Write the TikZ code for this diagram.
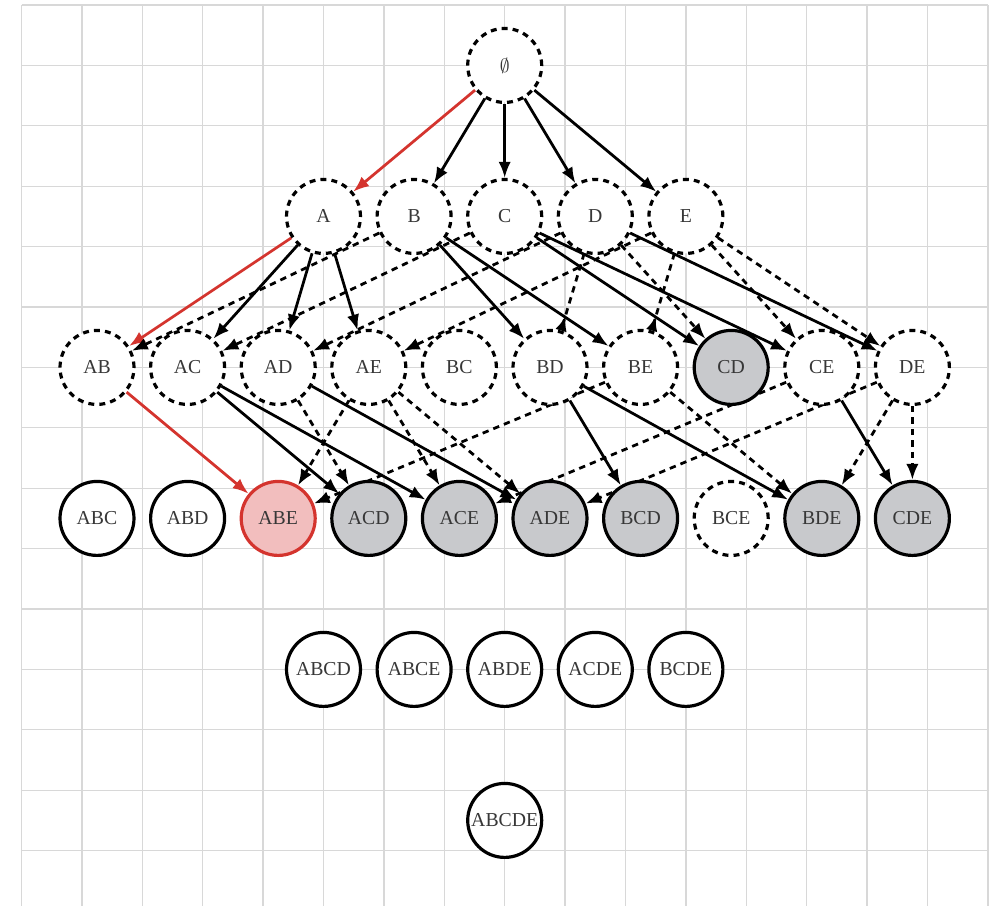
\documentclass[tikz,border=0pt]{standalone}
\usepackage{fontspec}
\setmainfont{Liberation Serif}
\usetikzlibrary{arrows.meta,backgrounds}

\definecolor{gridcol}{RGB}{216,216,216}
\definecolor{grayfill}{RGB}{200,201,204}
\definecolor{hlred}{RGB}{212,52,46}
\definecolor{hlfill}{RGB}{242,190,190}
\definecolor{txt}{RGB}{55,55,55}

\begin{document}
\begin{tikzpicture}[x=1cm,y=-1cm,
  setnode/.style={circle,minimum size=1.225cm,inner sep=0pt,line width=1.5pt,
    font=\fontsize{9.3}{10}\selectfont,text=txt,fill=white},
  dnode/.style={setnode,draw=black,dash pattern=on 2.8pt off 2.4pt},
  wnode/.style={setnode,draw=black},
  gnode/.style={setnode,draw=black,fill=grayfill},
  rnode/.style={setnode,draw=hlred,fill=hlfill},
  lnk/.style={line width=1.3pt,-{Latex[length=7.5pt,width=5.8pt]}},
  solidlnk/.style={lnk,draw=black},
  redlnk/.style={lnk,draw=hlred,-{Latex[length=7.5pt,width=5.8pt,color=hlred]}},
  dashlnk/.style={lnk,draw=black,dash pattern=on 3pt off 2.4pt},
  revlnk/.style={line width=1.3pt,draw=black,dash pattern=on 3pt off 2.4pt,
    -{Latex[length=7pt,width=5.5pt,reversed]}},
  gridline/.style={draw=gridcol,line width=0.6pt}
]
\useasboundingbox (-0.356,-0.083) rectangle (16.151,14.917);

% level 0
\node[dnode] (e) at (8,1) {$\emptyset$};
% level 1
\node[dnode] (A) at (5,3.5) {A};
\node[dnode] (B) at (6.5,3.5) {B};
\node[dnode] (C) at (8,3.5) {C};
\node[dnode] (D) at (9.5,3.5) {D};
\node[dnode] (E) at (11,3.5) {E};
% level 2
\node[dnode] (AB) at (1.25,6) {AB};
\node[dnode] (AC) at (2.75,6) {AC};
\node[dnode] (AD) at (4.25,6) {AD};
\node[dnode] (AE) at (5.75,6) {AE};
\node[dnode] (BC) at (7.25,6) {BC};
\node[dnode] (BD) at (8.75,6) {BD};
\node[dnode] (BE) at (10.25,6) {BE};
\node[gnode] (CD) at (11.75,6) {CD};
\node[dnode] (CE) at (13.25,6) {CE};
\node[dnode] (DE) at (14.75,6) {DE};
% level 3
\node[wnode] (ABC) at (1.25,8.5) {ABC};
\node[wnode] (ABD) at (2.75,8.5) {ABD};
\node[rnode] (ABE) at (4.25,8.5) {ABE};
\node[gnode] (ACD) at (5.75,8.5) {ACD};
\node[gnode] (ACE) at (7.25,8.5) {ACE};
\node[gnode] (ADE) at (8.75,8.5) {ADE};
\node[gnode] (BCD) at (10.25,8.5) {BCD};
\node[dnode] (BCE) at (11.75,8.5) {BCE};
\node[gnode] (BDE) at (13.25,8.5) {BDE};
\node[gnode] (CDE) at (14.75,8.5) {CDE};
% level 4
\node[wnode] (ABCD) at (5,11) {ABCD};
\node[wnode] (ABCE) at (6.5,11) {ABCE};
\node[wnode] (ABDE) at (8,11) {ABDE};
\node[wnode] (ACDE) at (9.5,11) {ACDE};
\node[wnode] (BCDE) at (11,11) {BCDE};
% level 5
\node[wnode] (ABCDE) at (8,13.5) {ABCDE};

\begin{pgfonlayer}{background}
  % background grid
  \foreach \i in {0,...,16} \draw[gridline] (\i,0) -- (\i,14.917);
  \foreach \j in {0,...,14} \draw[gridline] (0,\j) -- (16,\j);

  % level 0 -> 1
  \draw[redlnk] (e) -- (A);
  \foreach \t in {B,C,D,E} \draw[solidlnk] (e) -- (\t);

  % level 1 -> 2
  \draw[redlnk] (A) -- (AB);
  \foreach \t in {AC,AD,AE} \draw[solidlnk] (A) -- (\t);
  \draw[dashlnk] (B) -- (AB);
  \draw[solidlnk] (B) -- (BD);
  \draw[solidlnk] (B) -- (BE);
  \draw[dashlnk] (C) -- (AC);
  \draw[solidlnk] (C) -- (CD);
  \draw[solidlnk] (C) -- (CE);
  \draw[dashlnk] (D) -- (AD);
  \draw[revlnk] (D) -- (BD);
  \draw[dashlnk] (D) -- (CD);
  \draw[solidlnk] (D) -- (DE);
  \draw[dashlnk] (E) -- (AE);
  \draw[revlnk] (E) -- (BE);
  \draw[dashlnk] (E) -- (CE);
  \draw[dashlnk] (E) -- (DE);

  % level 2 -> 3
  \draw[redlnk] (AB) -- (ABE);
  \draw[solidlnk] (AC) -- (ACD);
  \draw[solidlnk] (AC) -- (ACE);
  \draw[solidlnk] (AD) -- (ADE);
  \draw[dashlnk] (AD) -- (ACD);
  \draw[dashlnk] (AE) -- (ABE);
  \draw[dashlnk] (AE) -- (ACE);
  \draw[dashlnk] (AE) -- (ADE);
  \draw[dashlnk] (BE) -- (ABE);
  \draw[dashlnk] (CE) -- (ACE);
  \draw[dashlnk] (DE) -- (ADE);
  \draw[solidlnk] (BD) -- (BCD);
  \draw[solidlnk] (BD) -- (BDE);
  \draw[dashlnk] (BE) -- (BDE);
  \draw[solidlnk] (CE) -- (CDE);
  \draw[dashlnk] (DE) -- (CDE);
  \draw[dashlnk] (DE) -- (BDE);
\end{pgfonlayer}
\end{tikzpicture}
\end{document}
